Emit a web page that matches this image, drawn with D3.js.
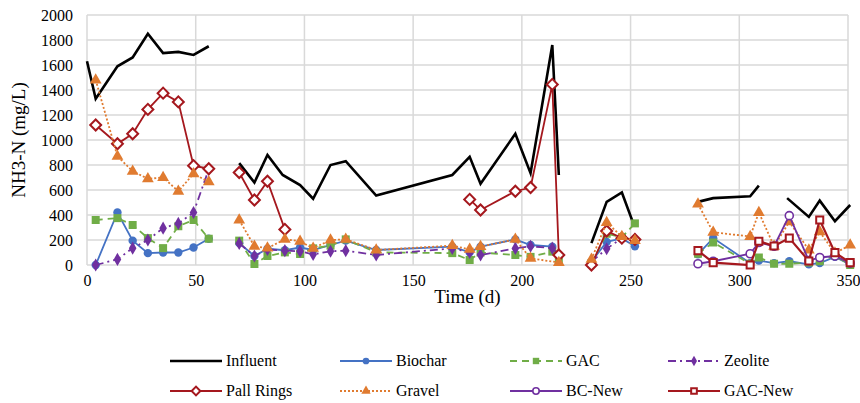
<!DOCTYPE html>
<html>
<head>
<meta charset="utf-8">
<script src="https://cdn.jsdelivr.net/npm/d3@7"></script>
<style>
  body { margin: 0; background: #fff; }
  svg text { font-family: "Liberation Serif", "Times New Roman", serif; fill: #000; }
</style>
</head>
<body>
<div id="chart"></div>
<script>
// values: [day, mg/L], null = break in the line
const influent = [[0,1630],[4,1330],[14,1590],[21,1660],[28,1850],[35,1695],[42,1705],[49,1680],[56,1750], null,
  [70,815],[77,660],[83,880],[90,720],[98,640],[104,530],[112,800],[119,830],[133,555],[168,720],[176,865],[181,650],[197,1050],[204,735],[214,1760],[217,720], null,
  [232,175],[239,505],[246,580],[251,345], null,
  [281,505],[288,535],[305,550],[309,635], null,
  [322,535],[332,385],[337,515],[344,350],[351,480]];

const biochar = [[4,0],[14,420],[21,195],[28,95],[35,100],[42,100],[49,140],[56,210], null,
  [70,175],[77,72],[83,130],[91,118],[98,140],[104,120],[112,160],[119,195],[133,120],[168,147],[176,101],[181,147],[197,205],[204,160],[214,147],[217,80], null,
  [232,27],[239,185],[246,213],[252,150], null,
  [281,85],[288,215],[305,15],[309,35],[316,15],[323,30],[332,5],[337,15],[344,65],[351,5]];

const gac = [[4,360],[14,375],[21,320],[28,215],[35,135],[42,310],[49,360],[56,210], null,
  [70,195],[77,8],[83,72],[91,101],[98,88],[104,133],[112,155],[119,205],[133,101],[168,95],[176,40],[181,100],[197,80],[204,65],[214,107],[217,27], null,
  [232,13],[239,250],[246,221],[252,333], null,
  [281,90],[288,180],[305,10],[309,60],[316,10],[323,10],[332,20],[337,30],[344,75],[351,0]];

const zeolite = [[4,0],[14,45],[21,135],[28,200],[35,295],[42,333],[49,420],[56,765], null,
  [70,173],[77,72],[83,125],[91,115],[98,110],[104,85],[112,110],[119,115],[133,80],[168,133],[176,101],[181,80],[197,133],[204,150],[214,135],[217,80], null,
  [232,25],[239,130],[246,215],[252,205]];

const pallRings = [[4,1120],[14,970],[21,1050],[28,1245],[35,1375],[42,1305],[49,795],[56,770], null,
  [70,740],[77,520],[83,670],[91,285], null,
  [176,525],[181,440],[197,590],[204,620],[214,1445],[217,80], null,
  [232,0],[239,272],[246,215],[252,205]];

const gravel = [[4,1480],[14,870],[21,750],[28,690],[35,700],[42,590],[49,730],[56,665], null,
  [70,360],[77,150],[83,135],[91,205],[98,190],[104,133],[112,200],[119,205],[133,120],[168,155],[176,125],[181,147],[197,205],[204,53],[217,20], null,
  [232,45],[239,340],[246,227],[252,195], null,
  [281,488],[288,262],[305,228],[309,420],[316,150],[323,345],[332,120],[337,265],[344,95],[351,160]];

const bcNew = [[281,10],[288,30],[305,90],[309,180],[316,150],[323,395],[332,35],[337,60],[344,72],[351,15]];
const gacNew = [[281,115],[288,19],[305,0],[309,190],[316,152],[323,215],[332,32],[337,360],[344,99],[351,19]];

const xTicks = [0, 50, 100, 150, 200, 250, 300, 350];
const yTicks = [0, 200, 400, 600, 800, 1000, 1200, 1400, 1600, 1800, 2000];

const series = [
  {name: "Influent",   data: influent,  color: "#000000", width: 2.6, dash: null,        marker: null},
  {name: "Biochar",    data: biochar,   color: "#4472C4", width: 1.8, dash: null,        marker: "circle"},
  {name: "GAC",        data: gac,       color: "#70AD47", width: 1.8, dash: "7,5",       marker: "square"},
  {name: "Zeolite",    data: zeolite,   color: "#7030A0", width: 1.8, dash: "8,4,2,4",   marker: "diamond"},
  {name: "Pall Rings", data: pallRings, color: "#A5181E", width: 1.8, dash: null,        marker: "openDiamond"},
  {name: "Gravel",     data: gravel,    color: "#E07B30", width: 1.8, dash: "2,2",       marker: "triangle"},
  {name: "BC-New",     data: bcNew,     color: "#7030A0", width: 1.8, dash: null,        marker: "openCircle"},
  {name: "GAC-New",    data: gacNew,    color: "#A5181E", width: 2.2, dash: null,        marker: "openSquare"}
];

const W = 860, H = 403;
const margin = {top: 15, right: 12, bottom: 138, left: 87};
const width = W - margin.left - margin.right,
      height = H - margin.top - margin.bottom;
const serif = "Liberation Serif, Times New Roman, serif";

const svg = d3.select("#chart").append("svg")
    .attr("width", W).attr("height", H);
const g = svg.append("g")
    .attr("transform", `translate(${margin.left}, ${margin.top})`);

const x = d3.scaleLinear().domain([0, 350]).range([0, width]);
const y = d3.scaleLinear().domain([0, 2000]).range([height, 0]);

// grid
g.append("g").selectAll("line").data(yTicks).join("line")
    .attr("x1", 0).attr("x2", width)
    .attr("y1", d => y(d)).attr("y2", d => y(d))
    .attr("stroke", "#D9D9D9").attr("stroke-width", 1.5);
g.append("g").selectAll("line").data(xTicks).join("line")
    .attr("x1", d => x(d)).attr("x2", d => x(d))
    .attr("y1", 0).attr("y2", height)
    .attr("stroke", "#D9D9D9").attr("stroke-width", 1.5);

// axes (labels only, the grid draws the lines)
const xAxis = g.append("g")
    .attr("transform", `translate(0, ${height})`)
    .call(d3.axisBottom(x).tickValues(xTicks).tickFormat(d3.format("d")).tickSize(0).tickPadding(10));
const yAxis = g.append("g")
    .call(d3.axisLeft(y).tickValues(yTicks).tickFormat(d3.format("d")).tickSize(0).tickPadding(14));
[xAxis, yAxis].forEach(a => {
  a.attr("font-family", serif).attr("font-size", 16);
  a.select(".domain").remove();
  a.selectAll("text").attr("fill", "#000");
});

svg.append("text")
    .attr("transform", `translate(25, ${margin.top + height / 2}) rotate(-90)`)
    .attr("text-anchor", "middle")
    .attr("font-family", serif).attr("font-size", 19)
    .text("NH3-N (mg/L)");
svg.append("text")
    .attr("x", margin.left + width / 2).attr("y", 303)
    .attr("text-anchor", "middle")
    .attr("font-family", serif).attr("font-size", 19)
    .text("Time (d)");

const line = d3.line()
    .defined(d => d !== null)
    .x(d => x(d[0]))
    .y(d => y(d[1]));

function drawMarker(sel, s, scale) {
  const k = scale || 1;
  if (s.marker === "circle") {
    sel.append("circle").attr("r", 4.2 * k).attr("fill", s.color);
  } else if (s.marker === "openCircle") {
    sel.append("circle").attr("r", 4 * k).attr("fill", "#fff").attr("stroke", s.color).attr("stroke-width", 1.6);
  } else if (s.marker === "square") {
    sel.append("path").attr("d", d3.symbol(d3.symbolSquare, 64 * k * k)).attr("fill", s.color);
  } else if (s.marker === "openSquare") {
    sel.append("path").attr("d", d3.symbol(d3.symbolSquare, 50 * k * k)).attr("fill", "#fff").attr("stroke", s.color).attr("stroke-width", 2);
  } else if (s.marker === "diamond") {
    sel.append("path").attr("d", d3.symbol(d3.symbolDiamond, 50 * k * k)).attr("fill", s.color);
  } else if (s.marker === "openDiamond") {
    sel.append("path").attr("d", d3.symbol(d3.symbolSquare, 60 * k * k)).attr("transform", "rotate(45)")
      .attr("fill", "#fff").attr("stroke", s.color).attr("stroke-width", 2);
  } else if (s.marker === "triangle") {
    sel.append("path").attr("d", d3.symbol(d3.symbolTriangle, 60 * k * k)).attr("fill", s.color);
  }
}

series.forEach(s => {
  g.append("path")
      .datum(s.data)
      .attr("fill", "none")
      .attr("stroke", s.color)
      .attr("stroke-width", s.width)
      .attr("stroke-dasharray", s.dash)
      .attr("d", line);
  if (s.marker) {
    g.append("g").selectAll("g")
      .data(s.data.filter(d => d !== null))
      .join("g")
        .attr("transform", d => `translate(${x(d[0])}, ${y(d[1])})`)
        .each(function() { drawMarker(d3.select(this), s); });
  }
});

// legend
const legX = [170, 340, 510, 668];
const legY = [361, 391];
series.forEach((s, i) => {
  const lg = svg.append("g")
      .attr("transform", `translate(${legX[i % 4]}, ${legY[Math.floor(i / 4)]})`);
  lg.append("line")
      .attr("x1", 0).attr("x2", 52).attr("y1", 0).attr("y2", 0)
      .attr("stroke", s.color).attr("stroke-width", s.width)
      .attr("stroke-dasharray", s.dash);
  if (s.marker) {
    const m = lg.append("g").attr("transform", "translate(26, 0)");
    drawMarker(m, s, 0.8);
  }
  lg.append("text")
      .attr("x", 56).attr("y", 5)
      .attr("font-family", serif).attr("font-size", 16)
      .text(s.name);
});
</script>
</body>
</html>
